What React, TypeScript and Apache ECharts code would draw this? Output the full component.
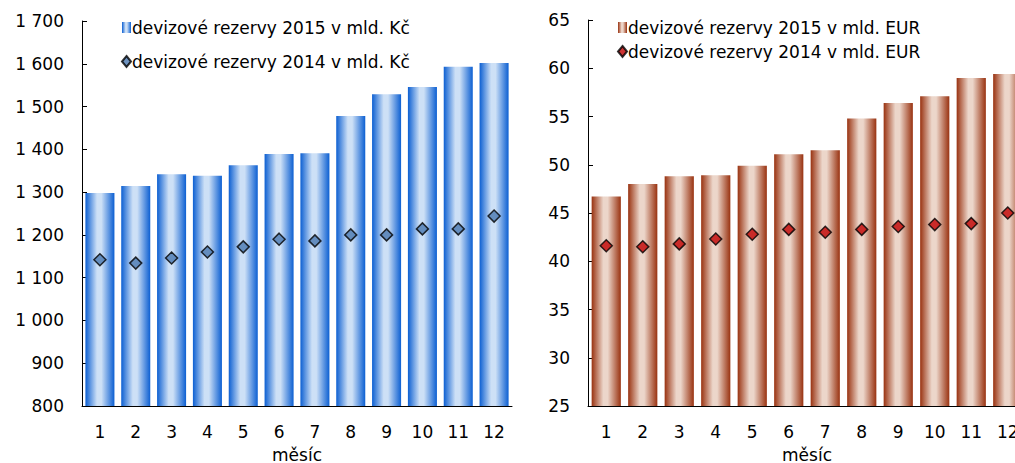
import React, { useEffect, useRef } from "react";
import * as echarts from "echarts";

const months = ["1", "2", "3", "4", "5", "6", "7", "8", "9", "10", "11", "12"];
const czk2015 = [1298, 1314, 1342, 1338, 1363, 1389, 1391, 1478, 1529, 1546, 1593, 1602];
const czk2014 = [1142, 1134, 1146, 1160, 1172, 1190, 1186, 1200, 1200, 1214, 1214, 1244];
const eur2015 = [46.7, 48.0, 48.8, 48.9, 49.9, 51.1, 51.5, 54.8, 56.4, 57.1, 59.0, 59.4];
const eur2014 = [41.6, 41.5, 41.8, 42.3, 42.8, 43.3, 43.0, 43.3, 43.6, 43.8, 43.9, 45.0];

const nameCzk15 = "devizové rezervy 2015 v mld. Kč";
const nameCzk14 = "devizové rezervy 2014 v mld. Kč";
const nameEur15 = "devizové rezervy 2015 v mld. EUR";
const nameEur14 = "devizové rezervy 2014 v mld. EUR";

const FONT = "DejaVu Sans";

function grad(edge: string, light: string) {
  return new echarts.graphic.LinearGradient(0, 0, 1, 0, [
    { offset: 0, color: edge },
    { offset: 0.4, color: light },
    { offset: 0.55, color: light },
    { offset: 1, color: edge },
  ]);
}

export default function App() {
  const ref = useRef<HTMLDivElement>(null);
  useEffect(() => {
    document.body.style.margin = "0";
    const chart = echarts.init(ref.current!, null, { renderer: "svg" });
    const axisLine = { show: true, lineStyle: { color: "#000", width: 1 } };
    const yLabel = { color: "#000", fontFamily: FONT, fontSize: 17, margin: 18 };
    const xAxisCommon = (gi: number) => ({
      type: "category",
      gridIndex: gi,
      data: months,
      axisLine,
      axisTick: { show: false },
      axisLabel: { color: "#000", fontFamily: FONT, fontSize: 17, margin: 17 },
      name: "měsíc",
      nameLocation: "middle",
      nameGap: 40,
      nameTextStyle: { color: "#000", fontFamily: FONT, fontSize: 17 },
    });
    chart.setOption({
      animation: false,
      backgroundColor: "#fff",
      grid: [
        { left: 82, top: 21, width: 430, height: 385, containLabel: false, outerBoundsMode: "none" },
        { left: 588, top: 20, width: 438, height: 386, containLabel: false, outerBoundsMode: "none" },
      ],
      legend: [
        {
          left: 116,
          top: 14,
          orient: "vertical",
          itemGap: 17,
          itemWidth: 9,
          itemHeight: 11,
          textStyle: { color: "#000", fontFamily: FONT, fontSize: 17, padding: [0, 0, 0, -4] },
          data: [{ name: nameCzk15, icon: "rect" }, { name: nameCzk14, icon: "diamond" }],
        },
        {
          left: 612,
          top: 14,
          orient: "vertical",
          itemGap: 7,
          itemWidth: 9,
          itemHeight: 11,
          textStyle: { color: "#000", fontFamily: FONT, fontSize: 17, padding: [0, 0, 0, -4] },
          data: [{ name: nameEur15, icon: "rect" }, { name: nameEur14, icon: "diamond" }],
        },
      ],
      xAxis: [xAxisCommon(0), xAxisCommon(1)],
      yAxis: [
        {
          type: "value",
          gridIndex: 0,
          min: 800,
          max: 1700,
          interval: 100,
          axisLine,
          axisTick: { show: true, inside: true, length: 5, lineStyle: { color: "#000" } },
          splitLine: { show: false },
          axisLabel: {
            ...yLabel,
            formatter: (v: number) => (v >= 1000 ? `${Math.floor(v / 1000)} ${String(v % 1000).padStart(3, "0")}` : String(v)),
          },
        },
        {
          type: "value",
          gridIndex: 1,
          min: 25,
          max: 65,
          interval: 5,
          axisLine,
          axisTick: { show: true, inside: true, length: 5, lineStyle: { color: "#000" } },
          splitLine: { show: false },
          axisLabel: yLabel,
        },
      ],
      series: [
        {
          name: nameCzk15,
          type: "bar",
          xAxisIndex: 0,
          yAxisIndex: 0,
          data: czk2015,
          barCategoryGap: "19%",
          itemStyle: { color: grad("#0c5fd2", "#cde0f6") },
        },
        {
          name: nameCzk14,
          type: "scatter",
          xAxisIndex: 0,
          yAxisIndex: 0,
          data: czk2014,
          symbol: "diamond",
          symbolSize: 12,
          itemStyle: { color: "#4a78b0", borderColor: "#000", borderWidth: 1.5 },
        },
        {
          name: nameEur15,
          type: "bar",
          xAxisIndex: 1,
          yAxisIndex: 1,
          data: eur2015,
          barCategoryGap: "20%",
          itemStyle: { color: grad("#993210", "#ecd6ca") },
        },
        {
          name: nameEur14,
          type: "scatter",
          xAxisIndex: 1,
          yAxisIndex: 1,
          data: eur2014,
          symbol: "diamond",
          symbolSize: 12,
          itemStyle: { color: "#c00000", borderColor: "#000", borderWidth: 1.5 },
        },
      ],
    });
    return () => chart.dispose();
  }, []);
  return <div ref={ref} style={{ width: 1015, height: 463 }} />;
}
